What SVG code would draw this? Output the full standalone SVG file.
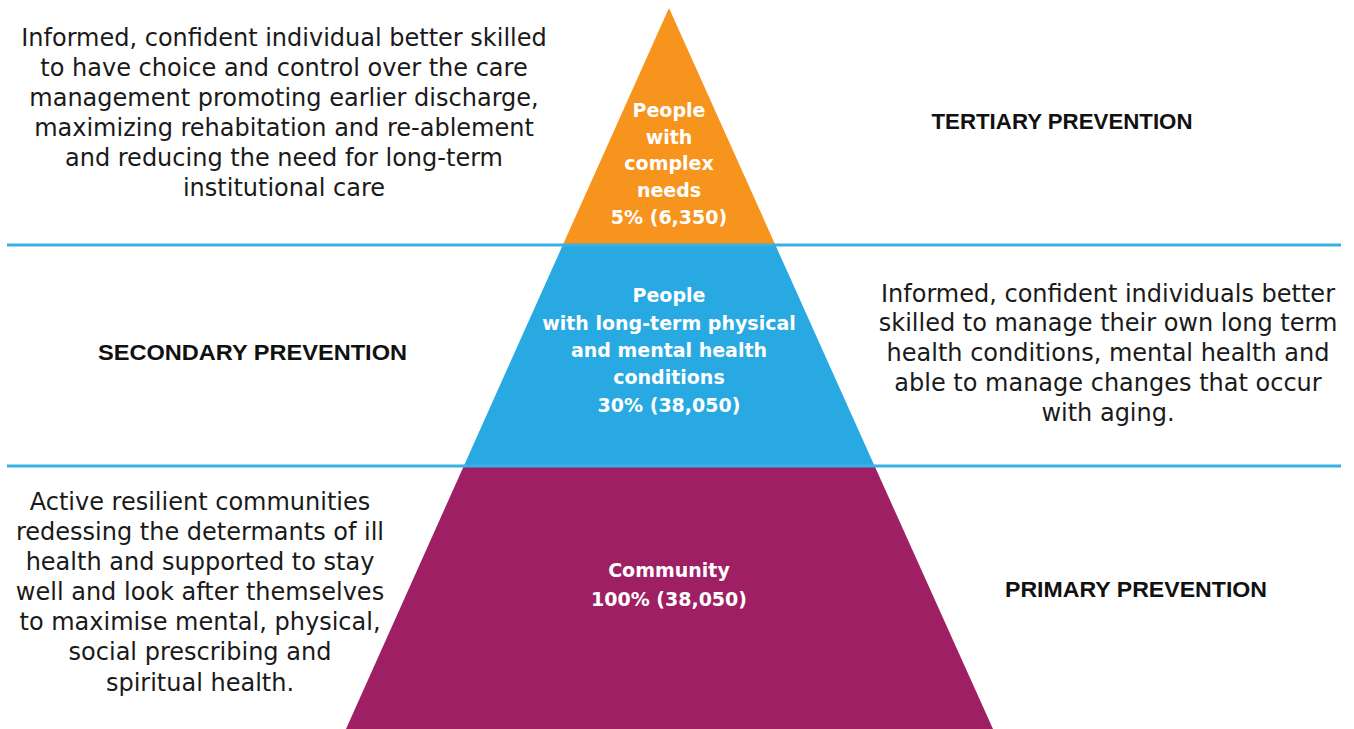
<svg xmlns="http://www.w3.org/2000/svg" width="1354" height="729" viewBox="0 0 1354 729">
<style>
.body{font-family:"DejaVu Sans","Liberation Sans",sans-serif;font-size:24px;fill:#1a1a1a;text-anchor:middle}
.head{font-family:"Liberation Sans",Arial,sans-serif;font-size:22.5px;font-weight:bold;fill:#111;text-anchor:middle}
.tier{font-family:"DejaVu Sans","Liberation Sans",sans-serif;font-size:19px;font-weight:bold;fill:#fff;text-anchor:middle}
.div{stroke:#3AB0E6;stroke-width:3;fill:none}
</style>
<rect width="1354" height="729" fill="#fff"/>
<g id="tier-tertiary">
<polygon points="669,8 562.8,245 775.4,245" fill="#F7941D"/>
<text class="tier" x="669"><tspan x="669" y="117">People</tspan><tspan x="669" y="144">with</tspan><tspan x="669" y="170">complex</tspan><tspan x="669" y="197">needs</tspan><tspan x="669" y="224">5% (6,350)</tspan></text>
</g>
<g id="tier-secondary">
<polygon points="562.8,245 775.4,245 874.6,466 463.8,466" fill="#29A9E1"/>
<text class="tier"><tspan x="669" y="302">People</tspan><tspan x="669" y="330">with long-term physical</tspan><tspan x="669" y="357">and mental health</tspan><tspan x="669" y="384">conditions</tspan><tspan x="669" y="412">30% (38,050)</tspan></text>
</g>
<g id="tier-primary">
<polygon points="463.8,466 874.6,466 993,729 346,729" fill="#9E1F63"/>
<text class="tier"><tspan x="669" y="577">Community</tspan><tspan x="669" y="606">100% (38,050)</tspan></text>
</g>
<g id="dividers">
<line class="div" x1="7" y1="245" x2="1341" y2="245"/>
<line class="div" x1="7" y1="466" x2="1341" y2="466"/>
</g>
<g id="label-tertiary">
<text class="head" x="1062" y="129" textLength="261" lengthAdjust="spacingAndGlyphs">TERTIARY PREVENTION</text>
</g>
<g id="label-secondary">
<text class="head" x="252.5" y="360" textLength="309" lengthAdjust="spacingAndGlyphs">SECONDARY PREVENTION</text>
</g>
<g id="label-primary">
<text class="head" x="1136" y="597" textLength="262" lengthAdjust="spacingAndGlyphs">PRIMARY PREVENTION</text>
</g>
<g id="desc-tertiary">
<text class="body"><tspan x="284" y="46">Informed, confident individual better skilled</tspan><tspan x="284" y="76">to have choice and control over the care</tspan><tspan x="284" y="106">management promoting earlier discharge,</tspan><tspan x="284" y="136">maximizing rehabitation and re-ablement</tspan><tspan x="284" y="166">and reducing the need for long-term</tspan><tspan x="284" y="196">institutional care</tspan></text>
</g>
<g id="desc-secondary">
<text class="body"><tspan x="1108" y="302">Informed, confident individuals better</tspan><tspan x="1108" y="331">skilled to manage their own long term</tspan><tspan x="1108" y="361">health conditions, mental health and</tspan><tspan x="1108" y="391">able to manage changes that occur</tspan><tspan x="1108" y="421">with aging.</tspan></text>
</g>
<g id="desc-primary">
<text class="body"><tspan x="200" y="510">Active resilient communities</tspan><tspan x="200" y="540">redessing the determants of ill</tspan><tspan x="200" y="570">health and supported to stay</tspan><tspan x="200" y="600">well and look after themselves</tspan><tspan x="200" y="630">to maximise mental, physical,</tspan><tspan x="200" y="660">social prescribing and</tspan><tspan x="200" y="691">spiritual health.</tspan></text>
</g>
</svg>
